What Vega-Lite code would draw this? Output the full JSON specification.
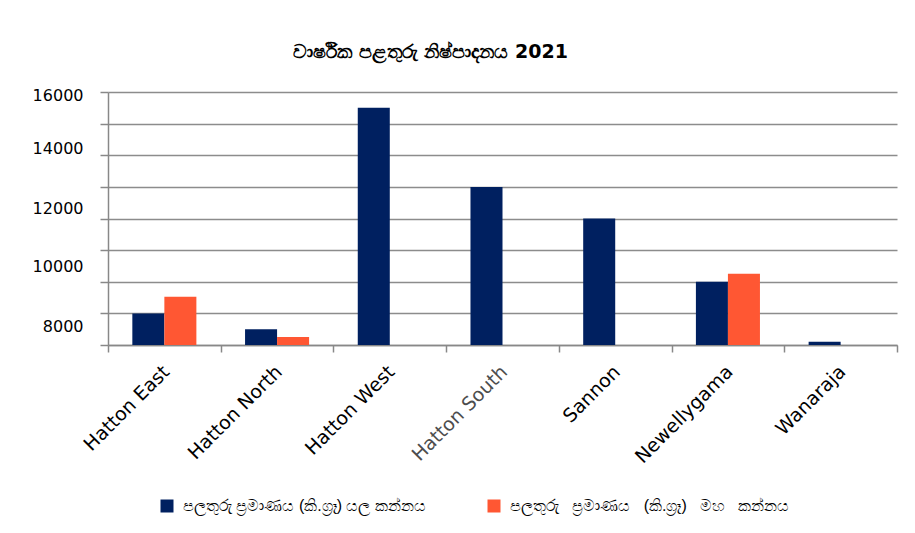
{
  "$schema": "https://vega.github.io/schema/vega-lite/v6.json",
  "autosize": {"type": "none"},
  "width": 789,
  "height": 253,
  "padding": {"left": 108, "top": 92, "right": 18, "bottom": 188},
  "background": "white",
  "title": {
    "text": "වාර්ෂික පළතුරු නිෂ්පාදනය 2021",
    "anchor": "middle",
    "dx": -72,
    "offset": 25,
    "fontSize": 19,
    "fontWeight": "bold",
    "font": "DejaVu Sans",
    "color": "#000000"
  },
  "data": {
    "values": [
      {"area": "Hatton East", "season": "පලතුරු ප්‍රමාණය (කි.ග්‍රෑ) යල කන්නය", "kg": 2000},
      {"area": "Hatton East", "season": "පලතුරු\u00a0\u00a0 ප්‍රමාණය\u00a0\u00a0 (කි.ග්‍රෑ)\u00a0\u00a0 මහ\u00a0\u00a0 කන්නය", "kg": 3050},
      {"area": "Hatton North", "season": "පලතුරු ප්‍රමාණය (කි.ග්‍රෑ) යල කන්නය", "kg": 1000},
      {"area": "Hatton North", "season": "පලතුරු\u00a0\u00a0 ප්‍රමාණය\u00a0\u00a0 (කි.ග්‍රෑ)\u00a0\u00a0 මහ\u00a0\u00a0 කන්නය", "kg": 500},
      {"area": "Hatton West", "season": "පලතුරු ප්‍රමාණය (කි.ග්‍රෑ) යල කන්නය", "kg": 15000},
      {"area": "Hatton South", "season": "පලතුරු ප්‍රමාණය (කි.ග්‍රෑ) යල කන්නය", "kg": 10000},
      {"area": "Sannon", "season": "පලතුරු ප්‍රමාණය (කි.ග්‍රෑ) යල කන්නය", "kg": 8000},
      {"area": "Newellygama", "season": "පලතුරු ප්‍රමාණය (කි.ග්‍රෑ) යල කන්නය", "kg": 4000},
      {"area": "Newellygama", "season": "පලතුරු\u00a0\u00a0 ප්‍රමාණය\u00a0\u00a0 (කි.ග්‍රෑ)\u00a0\u00a0 මහ\u00a0\u00a0 කන්නය", "kg": 4500},
      {"area": "Wanaraja", "season": "පලතුරු ප්‍රමාණය (කි.ග්‍රෑ) යල කන්නය", "kg": 200}
    ]
  },
  "mark": {"type": "bar"},
  "encoding": {
    "x": {
      "field": "area",
      "type": "nominal",
      "sort": ["Hatton East", "Hatton North", "Hatton West", "Hatton South", "Sannon", "Newellygama", "Wanaraja"],
      "scale": {"paddingInner": 0, "paddingOuter": 0},
      "axis": {
        "title": null,
        "labelAngle": -45,
        "labelAlign": "right",
        "labelFont": "DejaVu Sans",
        "labelFontSize": 19,
        "labelColor": {"condition": {"test": "datum.value == 'Hatton South'", "value": "#4d4d4d"}, "value": "#000000"},
        "labelPadding": 10,
        "labelOffset": -5,
        "tickBand": "extent",
        "tickSize": 7,
        "tickColor": "#888888",
        "tickWidth": 1.5,
        "domainColor": "#888888",
        "domainWidth": 1.5,
        "grid": false
      }
    },
    "xOffset": {
      "field": "season",
      "type": "nominal",
      "sort": ["පලතුරු ප්‍රමාණය (කි.ග්‍රෑ) යල කන්නය", "පලතුරු\u00a0\u00a0 ප්‍රමාණය\u00a0\u00a0 (කි.ග්‍රෑ)\u00a0\u00a0 මහ\u00a0\u00a0 කන්නය"],
      "scale": {"paddingInner": 0, "paddingOuter": 0.76}
    },
    "y": {
      "field": "kg",
      "type": "quantitative",
      "scale": {"domain": [0, 16000], "nice": false},
      "axis": {
        "title": null,
        "values": [0, 2000, 4000, 6000, 8000, 10000, 12000, 14000, 16000],
        "labelExpr": "datum.value % 4000 == 0 ? format(datum.value / 2 + 8000, 'd') : ''",
        "labelOverlap": false,
        "labelFont": "DejaVu Sans",
        "labelFontSize": 16,
        "labelColor": "#000000",
        "labelPadding": 17,
        "labelOffset": {
          "condition": [
            {"test": "datum.value == 16000", "value": 3},
            {"test": "datum.value == 12000", "value": -7},
            {"test": "datum.value == 8000", "value": -10},
            {"test": "datum.value == 4000", "value": -15}
          ],
          "value": -19
        },
        "tickSize": 8,
        "tickColor": "#888888",
        "tickWidth": 1.5,
        "domainColor": "#888888",
        "domainWidth": 1.5,
        "grid": true,
        "gridColor": "#8c8c8c",
        "gridWidth": 1.5
      }
    },
    "color": {
      "field": "season",
      "type": "nominal",
      "sort": ["පලතුරු ප්‍රමාණය (කි.ග්‍රෑ) යල කන්නය", "පලතුරු\u00a0\u00a0 ප්‍රමාණය\u00a0\u00a0 (කි.ග්‍රෑ)\u00a0\u00a0 මහ\u00a0\u00a0 කන්නය"],
      "scale": {"range": ["#002060", "#FF5733"]},
      "legend": {
        "title": null,
        "orient": "none",
        "legendX": 51,
        "legendY": 406,
        "direction": "horizontal",
        "symbolType": "square",
        "symbolSize": 169,
        "symbolStrokeWidth": 0,
        "labelFontSize": 16,
        "labelColor": "#000000",
        "labelLimit": 400,
        "labelOffset": 8,
        "columnPadding": 60
      }
    }
  },
  "config": {
    "view": {"stroke": null},
    "bar": {"stroke": null}
  }
}
